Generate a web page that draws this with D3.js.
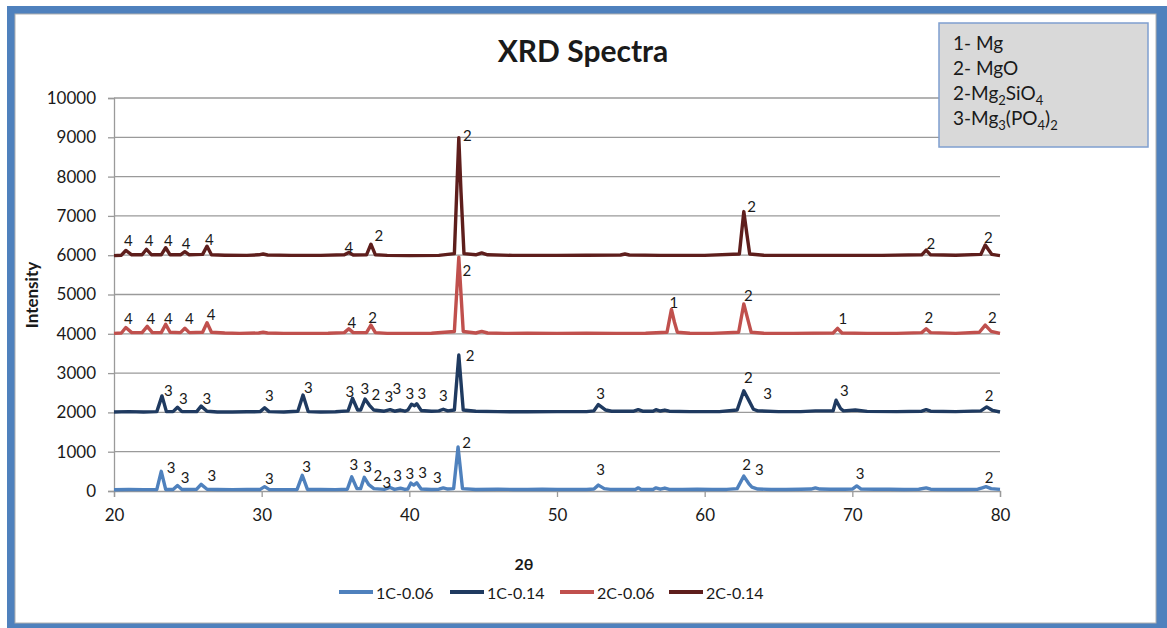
<!DOCTYPE html>
<html>
<head>
<meta charset="utf-8">
<script src="https://cdn.jsdelivr.net/npm/d3@7"></script>
<style>
  body { margin: 0; background: #fff; }
  svg text { font-family: Lato, "Open Sans", sans-serif; fill: #1a1a1a; }
</style>
</head>
<body>
<svg width="1167" height="628"></svg>
<script>
// series names + colours
const seriesNames = ["1C-0.06", "1C-0.14", "2C-0.06", "2C-0.14"];
const seriesColors = ["#4F81BD", "#1F3A60", "#C0504D", "#5E1E1C"];

const xTicks = [20, 30, 40, 50, 60, 70, 80];
const yTicks = [0, 1000, 2000, 3000, 4000, 5000, 6000, 7000, 8000, 9000, 10000];

// [2theta, intensity]
const s1C006 = [[20,30],[21,40],[22,35],[22.9,40],[23.2,500],[23.5,40],[24.0,40],[24.3,140],[24.6,40],[25.6,45],[25.9,170],[26.3,45],
  [27,40],[28,35],[29,40],[29.9,40],[30.2,110],[30.5,40],[31.5,35],[32.4,40],[32.75,400],[33.1,40],[34,40],[35,35],[35.8,45],
  [36.1,360],[36.45,60],[36.7,60],[36.95,350],[37.25,160],[37.6,60],[38.3,40],[38.7,90],[39.0,40],[39.4,70],[39.7,40],[39.9,50],
  [40.1,200],[40.3,150],[40.5,210],[40.8,50],[41.5,40],[42.0,45],[42.3,80],[42.6,50],[43.0,60],[43.3,1120],[43.6,60],[44.5,40],
  [46,45],[47,40],[48,40],[49,45],[50,40],[51,40],[52,40],[52.5,50],[52.8,150],[53.2,60],[53.6,40],[54.5,40],[55.3,40],[55.5,80],
  [55.7,40],[56.5,40],[56.7,80],[57.0,45],[57.3,75],[57.6,40],[58.5,40],[59.5,45],[60.5,40],[61.5,40],[62.2,60],[62.65,380],
  [63.0,180],[63.2,100],[63.6,50],[64.5,40],[65.5,40],[66.5,45],[67.2,50],[67.5,80],[67.8,50],[68.5,45],[69.5,45],[70.0,50],
  [70.3,130],[70.6,50],[71.5,45],[72.5,45],[73.5,40],[74.5,45],[75.0,80],[75.3,45],[76.5,40],[77.5,40],[78.5,45],[78.8,80],
  [79.05,110],[79.4,60],[80,40]];

const s1C014 = [[20,2010],[21,2020],[22,2010],[22.9,2020],[23.25,2420],[23.55,2020],[24.0,2020],[24.3,2130],[24.6,2020],[25.6,2020],
  [25.9,2160],[26.3,2030],[27,2010],[28,2010],[29,2015],[29.9,2020],[30.2,2120],[30.5,2020],[31.5,2010],[32.45,2030],[32.8,2440],
  [33.15,2020],[34,2010],[35,2015],[35.85,2040],[36.15,2360],[36.5,2060],[36.7,2060],[37.0,2340],[37.3,2180],[37.6,2060],
  [38.3,2030],[38.7,2070],[39.0,2030],[39.4,2060],[39.7,2030],[39.9,2060],[40.15,2210],[40.35,2170],[40.5,2220],[40.8,2050],
  [41.5,2030],[42.0,2040],[42.3,2080],[42.6,2040],[43.05,2060],[43.35,3460],[43.65,2060],[44.5,2030],[46,2020],[48,2015],
  [50,2020],[52,2020],[52.5,2040],[52.8,2200],[53.3,2060],[53.7,2030],[55.2,2030],[55.5,2070],[55.8,2030],[56.5,2030],
  [56.7,2070],[57.0,2035],[57.3,2060],[57.6,2030],[59,2020],[61,2020],[62.2,2060],[62.65,2550],[63.0,2300],[63.3,2080],
  [63.6,2040],[65,2020],[66.5,2020],[67.5,2040],[68.7,2040],[68.9,2310],[69.2,2100],[69.4,2040],[70.2,2060],[71,2025],
  [73,2020],[74.7,2030],[75.0,2070],[75.3,2030],[77,2020],[78.7,2040],[79.1,2140],[79.5,2050],[80,2010]];

const s2C006 = [[20,4010],[20.5,4020],[20.8,4160],[21.2,4030],[21.9,4030],[22.25,4190],[22.6,4030],[23.2,4030],[23.5,4240],
  [23.8,4040],[24.5,4030],[24.8,4140],[25.1,4030],[26.0,4040],[26.3,4280],[26.6,4040],[27.5,4020],[28.5,4010],[29.8,4020],
  [30.1,4040],[30.4,4020],[31.5,4010],[33,4010],[34.5,4015],[35.6,4030],[35.9,4130],[36.2,4030],[37.1,4030],[37.4,4220],
  [37.7,4030],[38.5,4010],[40,4010],[41.5,4015],[43.05,4060],[43.35,5950],[43.65,4060],[44.5,4020],[44.9,4060],[45.3,4020],
  [46.5,4010],[48,4015],[50,4010],[52,4015],[54,4010],[56,4015],[57.45,4040],[57.75,4620],[57.95,4300],[58.15,4040],[59,4015],
  [60.5,4010],[62.3,4040],[62.65,4760],[62.9,4400],[63.15,4040],[64,4015],[66,4010],[68.7,4020],[69.0,4140],[69.3,4020],
  [71,4010],[73,4010],[74.7,4030],[75.0,4130],[75.3,4030],[77,4010],[78.6,4040],[79.0,4220],[79.4,4060],[80,4010]];

const s2C014 = [[20,5990],[20.5,6000],[20.8,6120],[21.2,6010],[21.9,6010],[22.2,6150],[22.55,6010],[23.2,6010],[23.5,6190],
  [23.8,6010],[24.5,6010],[24.8,6090],[25.1,6010],[26.0,6020],[26.3,6230],[26.6,6010],[27.5,6000],[29,5995],[29.8,6010],
  [30.1,6030],[30.4,6005],[32,5995],[34,5995],[35.6,6010],[35.9,6070],[36.2,6005],[37.1,6010],[37.4,6280],[37.7,6010],
  [38.5,5995],[40,5990],[42,5995],[43.05,6040],[43.35,8990],[43.5,7600],[43.7,6040],[44.5,6010],[44.9,6060],[45.3,6010],
  [47,5995],[50,5995],[52,6000],[54.3,6005],[54.6,6030],[54.9,6005],[57,5995],[60,5995],[62.35,6030],[62.65,7110],
  [62.85,6560],[63.05,6030],[64,6000],[67,5995],[70,5995],[72,5995],[74.7,6010],[75.0,6130],[75.3,6010],[77,6000],
  [78.7,6020],[79.0,6260],[79.2,6150],[79.45,6020],[80,5990]];

const allSeries = [s1C006, s1C014, s2C006, s2C014];

// peak labels [2theta, intensity, phase]
const peaks1C006 = [[23.86,618,"3"],[24.81,364,"3"],[26.62,407,"3"],[30.52,323,"3"],[33.05,636,"3"],[36.25,687,"3"],[37.18,636,"3"],
  [37.86,407,"2"],[38.47,237,"3"],[39.21,407,"3"],[40.04,450,"3"],[40.9,491,"3"],[41.89,364,"3"],[43.88,1255,"2"],[52.96,552,"3"],
  [62.84,687,"2"],[63.7,552,"3"],[70.52,450,"3"],[79.27,349,"2"]];
const peaks1C014 = [[23.68,2570,"3"],[24.69,2359,"3"],[26.28,2359,"3"],[30.52,2443,"3"],[33.16,2654,"3"],[35.98,2553,"3"],
  [36.99,2614,"3"],[37.74,2461,"2"],[38.62,2410,"3"],[39.15,2620,"3"],[40.04,2502,"3"],[40.84,2502,"3"],[42.3,2443,"3"],
  [44.11,3461,"2"],[52.96,2486,"3"],[62.95,2894,"2"],[64.27,2502,"3"],[69.46,2570,"3"],[79.27,2443,"2"]];
const peaks2C006 = [[20.97,4395,"4"],[22.49,4395,"4"],[23.68,4395,"4"],[25.1,4395,"4"],[26.57,4497,"4"],[36.1,4309,"4"],
  [37.52,4421,"2"],[43.89,5624,"2"],[57.92,4818,"1"],[62.95,4988,"2"],[69.35,4395,"1"],[75.19,4436,"2"],[79.48,4436,"2"]];
const peaks2C014 = [[20.97,6390,"4"],[22.37,6390,"4"],[23.68,6390,"4"],[24.88,6320,"4"],[26.45,6406,"4"],[35.9,6218,"4"],
  [37.93,6515,"2"],[43.93,9060,"2"],[63.18,7253,"2"],[75.31,6304,"2"],[79.21,6472,"2"]];

const allPeaks = [peaks1C006, peaks1C014, peaks2C006, peaks2C014];

const phaseLines = [
  [["1- Mg", ""]],
  [["2- MgO", ""]],
  [["2-Mg", ""], ["2", "sub"], ["SiO", ""], ["4", "sub"]],
  [["3-Mg", ""], ["3", "sub"], ["(PO", ""], ["4", "sub"], [")", ""], ["2", "sub"]]
];

var svg = d3.select("svg");

// frame
svg.append("rect").attr("x", 7).attr("y", 6).attr("width", 1160).attr("height", 622).attr("fill", "#4F81BD");
svg.append("rect").attr("x", 15).attr("y", 14).attr("width", 1141).attr("height", 609)
   .attr("fill", "#fff").attr("stroke", "#b0b0b0").attr("stroke-width", 1);

var pLeft = 114, pRight = 1000, pTop = 98, pBottom = 491;
let xScale = d3.scaleLinear().domain([20, 80]).range([pLeft, pRight]);
let yScale = d3.scaleLinear().domain([0, 10000]).range([pBottom, pTop]);

// grid
svg.append("g").selectAll("line")
   .data(yTicks.slice(1))
   .enter().append("line")
   .attr("x1", pLeft).attr("x2", pRight)
   .attr("y1", d => yScale(d)).attr("y2", d => yScale(d))
   .attr("stroke", "#9a9a9a").attr("stroke-width", 1.3);

var gx = svg.append("g")
   .attr("transform", "translate(0," + pBottom + ")")
   .call(d3.axisBottom(xScale).tickValues(xTicks).tickSize(6).tickPadding(12).tickFormat(d3.format("d")));
var gy = svg.append("g")
   .attr("transform", "translate(" + pLeft + ",0)")
   .call(d3.axisLeft(yScale).tickValues(yTicks).tickSize(6).tickPadding(12).tickFormat(d3.format("d")));
[gx, gy].forEach(g => {
  g.select(".domain").attr("stroke", "#9a9a9a").attr("stroke-width", 1.3);
  g.selectAll(".tick line").attr("stroke", "#9a9a9a").attr("stroke-width", 1.3);
  g.selectAll("text").attr("font-size", 17).attr("font-family", "Lato").attr("fill", "#1a1a1a");
});

// series
let line = d3.line().x(d => xScale(d[0])).y(d => yScale(d[1]));
allSeries.forEach((s, i) => {
  svg.append("path")
     .datum(s)
     .attr("d", line)
     .attr("fill", "none")
     .attr("stroke", seriesColors[i])
     .attr("stroke-width", 3.4)
     .attr("stroke-linejoin", "round");
});

// phase numbers
allPeaks.forEach(p => {
  svg.append("g").selectAll("text")
     .data(p)
     .enter().append("text")
     .attr("x", d => xScale(d[0]))
     .attr("y", d => yScale(d[1]))
     .attr("text-anchor", "middle")
     .attr("dominant-baseline", "central")
     .attr("font-size", 15)
     .text(d => d[2]);
});

// title + axis titles
svg.append("text").attr("x", 583).attr("y", 62).attr("text-anchor", "middle")
   .attr("font-size", 30).attr("font-weight", "bold").text("XRD Spectra");
svg.append("text").attr("x", 524).attr("y", 570).attr("text-anchor", "middle")
   .attr("font-size", 16).attr("font-weight", "bold").text("2θ");
svg.append("text").attr("transform", "translate(38,295) rotate(-90)").attr("text-anchor", "middle")
   .attr("font-size", 17).attr("font-weight", "bold").text("Intensity");

// phase box
svg.append("rect").attr("x", 939).attr("y", 23).attr("width", 209).attr("height", 124)
   .attr("fill", "#D9D9D9").attr("stroke", "#7F9FCF").attr("stroke-width", 1.5);
phaseLines.forEach((parts, i) => {
  var t = svg.append("text").attr("x", 953).attr("y", 50 + i * 25).attr("font-size", 19);
  var shifted = false;
  parts.forEach(p => {
    var ts = t.append("tspan").text(p[0]);
    if (p[1] == "sub") { ts.attr("font-size", 13).attr("dy", 5); shifted = true; }
    else if (shifted) { ts.attr("dy", -5); shifted = false; }
  });
});

// legend
var legX = [339, 450, 560, 669];
seriesNames.forEach((n, i) => {
  svg.append("line").attr("x1", legX[i]).attr("x2", legX[i] + 34).attr("y1", 592).attr("y2", 592)
     .attr("stroke", seriesColors[i]).attr("stroke-width", 4);
  svg.append("text").attr("x", legX[i] + 37).attr("y", 592).attr("dominant-baseline", "central")
     .attr("font-size", 16).text(n);
});
</script>
</body>
</html>
